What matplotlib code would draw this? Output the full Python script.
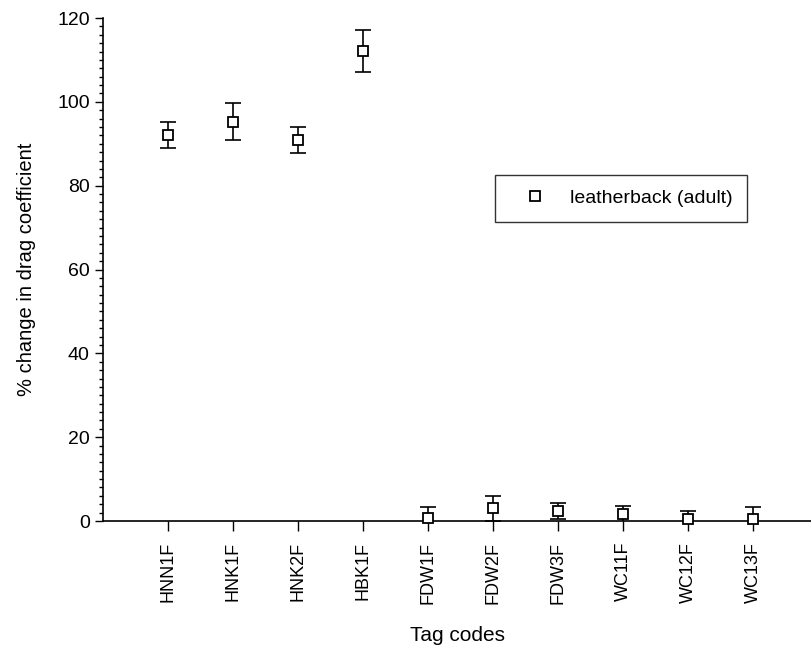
import matplotlib.pyplot as plt
from matplotlib.ticker import MultipleLocator
import numpy as np

plt.rcParams['font.family'] = ['Liberation Sans', 'DejaVu Sans']

tags = ['HNN1F', 'HNK1F', 'HNK2F', 'HBK1F', 'FDW1F',
        'FDW2F', 'FDW3F', 'WC11F', 'WC12F', 'WC13F']
drag_change = [92.1, 95.3, 90.9, 112.1, 0.8, 3.0, 2.3, 1.6, 0.6, 0.6]
drag_err = [3.1, 4.5, 3.2, 5.0, 2.6, 3.0, 1.9, 2.0, 1.9, 2.8]

fig = plt.figure(figsize=(8.12, 6.53), dpi=100)
ax = fig.add_axes([0.1268, 0.2021, 0.8732, 0.7703])

x = np.arange(1, len(tags) + 1)
# error bars get clipped at the axis, the squares sit on top of it
ax.errorbar(x, drag_change, yerr=drag_err, fmt='none', ecolor='black',
            elinewidth=1.2, capsize=5.8, capthick=1.2, zorder=2)
ax.plot(x, drag_change, 's', mfc='white', mec='black', ms=7.5, mew=1.3,
        linestyle='none', label='leatherback (adult)', clip_on=False, zorder=4)

ax.set_xlim(0, 10.9)
ax.set_ylim(0, 120)
ax.set_xticks(x)
ax.set_xticklabels(tags, rotation=90, fontsize=13)
ax.yaxis.set_major_locator(MultipleLocator(20))
ax.yaxis.set_minor_locator(MultipleLocator(2))
ax.tick_params(axis='y', labelsize=14, length=6, width=1)
ax.tick_params(axis='y', which='minor', length=3, width=1)
ax.tick_params(axis='x', length=7, width=1, pad=8)

for side in ['top', 'right']:
    ax.spines[side].set_visible(False)
for side in ['left', 'bottom']:
    ax.spines[side].set_linewidth(1.2)

ax.set_ylabel('% change in drag coefficient', fontsize=14.5, labelpad=15)
ax.set_xlabel('Tag codes', fontsize=15, labelpad=16)

leg = ax.legend(loc='upper left', bbox_to_anchor=(0.553, 0.688),
                fontsize=14, frameon=True, fancybox=False,
                edgecolor='black', borderpad=0.75, handletextpad=0.5,
                handlelength=2.6, borderaxespad=0)
leg.get_frame().set_linewidth(1.0)

fig.savefig('out.png', dpi=100)
